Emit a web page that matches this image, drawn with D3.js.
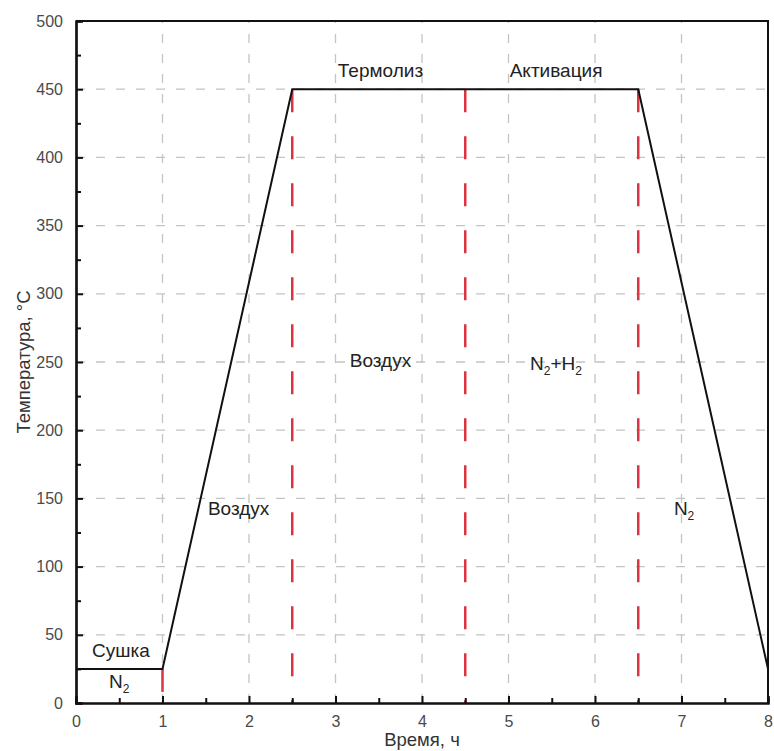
<!DOCTYPE html>
<html lang="ru">
<head>
<meta charset="UTF-8">
<title>Температурный режим</title>
<script src="https://d3js.org/d3.v7.min.js"></script>
<style>
  body { margin:0; background:#fff; }
  text { font-family: "Liberation Sans", Arial, sans-serif; }
</style>
</head>
<body>
<svg id="chart" width="774" height="751"></svg>
<script>
// temperature profile (hours, °C)
var timeH = [0, 1, 2.5, 6.5, 8];
var tempC = [25, 25, 450, 450, 25];

// red stage boundaries: x position, top value
var boundX = [1, 2.5, 4.5, 6.5];
var boundTop = [25, 450, 450, 450];

var xTicks = [0, 1, 2, 3, 4, 5, 6, 7, 8];
var yTicks = [0, 50, 100, 150, 200, 250, 300, 350, 400, 450, 500];

// stage labels
var labelText = ["Сушка", "N|2", "Воздух", "Термолиз", "Активация", "Воздух", "N|2+H|2", "N|2"];
var labelX = [0.52, 0.5, 1.88, 3.52, 5.55, 3.52, 5.55, 7.03];
var labelY = [34, 11, 138, 459, 459, 246, 244, 138];

var svg = d3.select("#chart");
var mLeft = 76, mRight = 768, mTop = 21, mBottom = 703;

var x = d3.scaleLinear().domain([0, 8]).range([mLeft, mRight]);
var y = d3.scaleLinear().domain([0, 500]).range([mBottom, mTop]);

// grid
var grid = svg.append("g").attr("stroke", "#c4c4c4").attr("stroke-width", 1.3).attr("stroke-dasharray", "9,11");
grid.selectAll(".gx").data(xTicks.slice(1, -1)).enter().append("line")
  .attr("x1", d => x(d)).attr("x2", d => x(d)).attr("y1", mBottom).attr("y2", mTop);
grid.selectAll(".gy").data(yTicks.slice(1, -1)).enter().append("line")
  .attr("y1", d => y(d)).attr("y2", d => y(d)).attr("x1", mLeft).attr("x2", mRight);

// red boundaries
svg.append("g").selectAll("line").data(boundX).enter().append("line")
  .attr("x1", d => x(d)).attr("x2", d => x(d))
  .attr("y1", (d, i) => y(boundTop[i])).attr("y2", mBottom)
  .attr("stroke", "#dc3340").attr("stroke-width", 2.5).attr("stroke-dasharray", "23,24");

// profile line
var line = d3.line().x(d => x(d[0])).y(d => y(d[1]));
svg.append("path").datum(timeH.map((t, i) => [t, tempC[i]]))
  .attr("d", line).attr("fill", "none").attr("stroke", "#111").attr("stroke-width", 2);

// axes
var xAxis = svg.append("g").attr("transform", "translate(0," + mBottom + ")")
  .call(d3.axisBottom(x).tickValues(xTicks).tickSize(-7).tickPadding(13));
var xMinor = svg.append("g").attr("transform", "translate(0," + mBottom + ")")
  .call(d3.axisBottom(x).tickValues(d3.range(0.5, 8, 1)).tickSize(-5).tickFormat(""));
var yAxis = svg.append("g").attr("transform", "translate(" + mLeft + ",0)")
  .call(d3.axisLeft(y).tickValues(yTicks).tickSize(-7).tickPadding(13));
var yMinor = svg.append("g").attr("transform", "translate(" + mLeft + ",0)")
  .call(d3.axisLeft(y).tickValues(d3.range(25, 500, 50)).tickSize(-5).tickFormat(""));
[xAxis, xMinor, yAxis, yMinor].forEach(function(a) {
  a.select(".domain").attr("stroke", "#111").attr("stroke-width", 2.2);
  a.selectAll(".tick line").attr("stroke", "#111").attr("stroke-width", 2);
  a.selectAll(".tick text").attr("font-size", 16).attr("fill", "#4a4a4a")
    .attr("font-family", "'Liberation Sans', Arial, sans-serif");
});
xMinor.selectAll(".tick text").remove();
yMinor.selectAll(".tick text").remove();
// frame top/right
svg.append("path").attr("d", "M" + mLeft + "," + mTop + "H" + mRight + "V" + mBottom)
  .attr("fill", "none").attr("stroke", "#111").attr("stroke-width", 2);

// stage labels with subscripts ("|2" = subscript 2)
labelText.forEach(function(s, i) {
  var t = svg.append("text").attr("x", x(labelX[i])).attr("y", y(labelY[i]))
    .attr("text-anchor", "middle").attr("font-size", 19).attr("fill", "#222");
  var shift = 0;
  s.split(/(\|\d)/).forEach(function(part) {
    if (!part) return;
    if (part[0] === "|") {
      t.append("tspan").attr("font-size", 12).attr("dy", 5).text(part.slice(1));
      shift = -5;
    } else {
      t.append("tspan").attr("dy", shift).text(part);
      shift = 0;
    }
  });
});

// axis titles
svg.append("text").attr("x", x(4)).attr("y", 746).attr("text-anchor", "middle")
  .attr("font-size", 18.5).attr("fill", "#333").text("Время, ч");
svg.append("text").attr("transform", "translate(30," + 362 + ") rotate(-90)")
  .attr("text-anchor", "middle").attr("font-size", 18.5).attr("fill", "#333").text("Температура, °C");
</script>
</body>
</html>
